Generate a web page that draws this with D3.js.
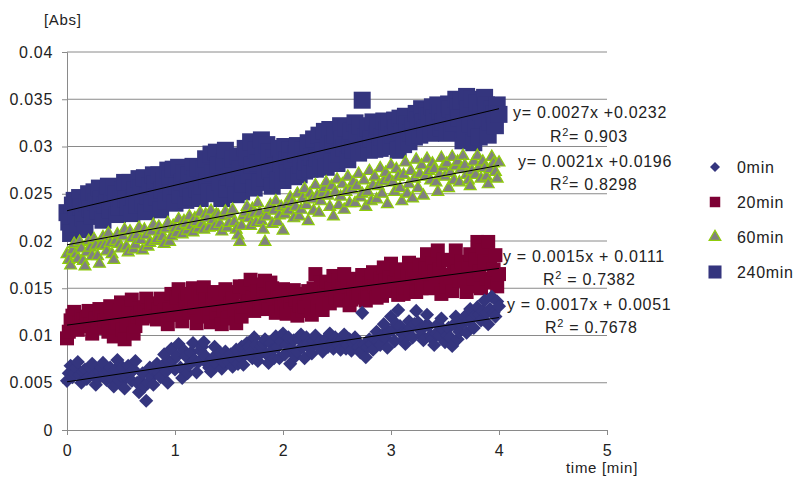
<!DOCTYPE html>
<html>
<head>
<meta charset="utf-8">
<script src="https://cdn.jsdelivr.net/npm/d3@7"></script>
<style>
  body { margin: 0; background: #fff; }
  text { font-family: "Liberation Sans", Arial, sans-serif; font-size: 16px; letter-spacing: 0.7px; fill: #222; }
</style>
</head>
<body>
<div id="canvas"></div>
<script>
// tiempos de medida en segundos (cada 1 s, de 0 a 4 min)
const seconds = [0,1,2,3,4,5,6,7,8,9,10,11,12,13,14,15,16,17,18,19,20,21,22,23,24,25,26,27,28,29,30,31,32,33,34,35,36,37,38,39,40,41,42,43,44,45,46,47,48,49,50,51,52,53,54,55,56,57,58,59,
60,61,62,63,64,65,66,67,68,69,70,71,72,73,74,75,76,77,78,79,80,81,82,83,84,85,86,87,88,89,90,91,92,93,94,95,96,97,98,99,100,101,102,103,104,105,106,107,108,109,110,111,112,113,114,115,116,117,118,119,
120,121,122,123,124,125,126,127,128,129,130,131,132,133,134,135,136,137,138,139,140,141,142,143,144,145,146,147,148,149,150,151,152,153,154,155,156,157,158,159,160,161,162,163,164,165,166,167,168,169,170,171,172,173,174,175,176,177,178,179,
180,181,182,183,184,185,186,187,188,189,190,191,192,193,194,195,196,197,198,199,200,201,202,203,204,205,206,207,208,209,210,211,212,213,214,215,216,217,218,219,220,221,222,223,224,225,226,227,228,229,230,231,232,233,234,235,236,237,238,239,240];

// absorbancias
const abs0 = [
0.0052,0.0060,0.0068,0.0056,0.0060,0.0066,0.0072,0.0058,0.0050,0.0062,0.0064,0.0054,0.0056,0.0066,0.0070,0.0058,0.0048,0.0054,0.0062,0.0066,
0.0071,0.0060,0.0053,0.0062,0.0066,0.0054,0.0046,0.0064,0.0074,0.0052,0.0058,0.0066,0.0044,0.0056,0.0068,0.0060,0.0052,0.0064,0.0073,0.0050,
0.0040,0.0052,0.0060,0.0046,0.0031,0.0050,0.0066,0.0056,0.0048,0.0062,0.0070,0.0060,0.0056,0.0068,0.0080,0.0062,0.0050,0.0072,0.0086,0.0074,
0.0064,0.0078,0.0091,0.0066,0.0055,0.0084,0.0078,0.0060,0.0069,0.0082,0.0092,0.0074,0.0061,0.0072,0.0084,0.0088,0.0093,0.0078,0.0070,0.0066,
0.0062,0.0076,0.0088,0.0070,0.0076,0.0082,0.0065,0.0072,0.0083,0.0078,0.0072,0.0080,0.0067,0.0074,0.0085,0.0070,0.0078,0.0088,0.0069,0.0080,
0.0092,0.0088,0.0082,0.0076,0.0098,0.0090,0.0073,0.0080,0.0088,0.0092,0.0096,0.0080,0.0071,0.0092,0.0084,0.0076,0.0099,0.0088,0.0076,0.0094,
0.0102,0.0080,0.0090,0.0098,0.0070,0.0086,0.0095,0.0078,0.0083,0.0096,0.0101,0.0088,0.0076,0.0098,0.0092,0.0086,0.0081,0.0094,0.0100,0.0090,
0.0088,0.0094,0.0083,0.0092,0.0097,0.0088,0.0102,0.0092,0.0086,0.0098,0.0094,0.0090,0.0085,0.0096,0.0101,0.0086,0.0090,0.0096,0.0084,0.0092,
0.0098,0.0094,0.0088,0.0082,0.0124,0.0090,0.0077,0.0088,0.0096,0.0091,0.0085,0.0096,0.0104,0.0094,0.0090,0.0100,0.0112,0.0098,0.0087,0.0104,
0.0120,0.0106,0.0094,0.0112,0.0127,0.0110,0.0102,0.0096,0.0091,0.0104,0.0115,0.0108,0.0098,0.0112,0.0126,0.0114,0.0106,0.0100,0.0095,0.0110,
0.0122,0.0110,0.0100,0.0096,0.0090,0.0102,0.0112,0.0100,0.0118,0.0106,0.0093,0.0100,0.0108,0.0098,0.0089,0.0112,0.0120,0.0096,0.0104,0.0112,
0.0114,0.0120,0.0103,0.0116,0.0128,0.0118,0.0108,0.0122,0.0130,0.0122,0.0116,0.0126,0.0137,0.0124,0.0112,0.0128,0.0141,0.0124,0.0120,0.0136,
0.0131];
const abs20 = [
0.0097,0.0104,0.0116,0.0121,0.0125,0.0114,0.0106,0.0113,0.0120,0.0117,0.0110,0.0118,0.0126,0.0112,0.0102,0.0122,0.0118,0.0110,0.0128,0.0119,
0.0108,0.0116,0.0122,0.0104,0.0131,0.0120,0.0099,0.0108,0.0114,0.0126,0.0135,0.0106,0.0096,0.0112,0.0124,0.0130,0.0138,0.0102,0.0110,0.0120,
0.0129,0.0124,0.0118,0.0130,0.0139,0.0126,0.0121,0.0134,0.0132,0.0120,0.0117,0.0128,0.0139,0.0118,0.0126,0.0136,0.0112,0.0128,0.0144,0.0122,
0.0130,0.0140,0.0149,0.0122,0.0115,0.0128,0.0137,0.0144,0.0124,0.0136,0.0150,0.0130,0.0113,0.0146,0.0141,0.0120,0.0151,0.0138,0.0128,0.0122,
0.0114,0.0138,0.0146,0.0124,0.0133,0.0144,0.0112,0.0128,0.0149,0.0118,0.0125,0.0134,0.0139,0.0126,0.0113,0.0146,0.0152,0.0120,0.0131,0.0152,
0.0144,0.0136,0.0159,0.0140,0.0126,0.0154,0.0147,0.0128,0.0135,0.0148,0.0158,0.0140,0.0128,0.0156,0.0150,0.0132,0.0124,0.0146,0.0140,0.0130,
0.0149,0.0134,0.0123,0.0142,0.0136,0.0128,0.0148,0.0138,0.0121,0.0132,0.0142,0.0126,0.0131,0.0144,0.0147,0.0136,0.0122,0.0150,0.0165,0.0130,
0.0140,0.0156,0.0127,0.0146,0.0157,0.0142,0.0134,0.0150,0.0163,0.0140,0.0146,0.0158,0.0137,0.0152,0.0165,0.0144,0.0152,0.0132,0.0138,0.0150,
0.0160,0.0140,0.0145,0.0156,0.0164,0.0150,0.0137,0.0146,0.0155,0.0162,0.0167,0.0152,0.0140,0.0150,0.0160,0.0142,0.0172,0.0158,0.0147,0.0162,
0.0176,0.0150,0.0156,0.0170,0.0143,0.0158,0.0168,0.0144,0.0151,0.0164,0.0177,0.0150,0.0161,0.0170,0.0146,0.0162,0.0175,0.0150,0.0155,0.0172,
0.0186,0.0166,0.0150,0.0176,0.0168,0.0156,0.0190,0.0170,0.0144,0.0180,0.0162,0.0152,0.0180,0.0164,0.0147,0.0172,0.0190,0.0168,0.0158,0.0178,
0.0171,0.0158,0.0146,0.0174,0.0186,0.0152,0.0160,0.0180,0.0199,0.0168,0.0150,0.0190,0.0178,0.0160,0.0199,0.0176,0.0156,0.0170,0.0185,0.0152,
0.0165];
const abs60 = [
0.0186,0.0180,0.0174,0.0190,0.0197,0.0186,0.0181,0.0199,0.0192,0.0179,0.0173,0.0188,0.0200,0.0193,0.0184,0.0202,0.0195,0.0184,0.0176,0.0196,
0.0204,0.0195,0.0189,0.0208,0.0198,0.0186,0.0180,0.0200,0.0207,0.0197,0.0192,0.0205,0.0212,0.0194,0.0188,0.0210,0.0203,0.0191,0.0196,0.0206,
0.0214,0.0201,0.0190,0.0212,0.0206,0.0194,0.0198,0.0210,0.0217,0.0200,0.0202,0.0215,0.0210,0.0204,0.0197,0.0213,0.0219,0.0199,0.0205,0.0216,
0.0213,0.0208,0.0223,0.0215,0.0207,0.0221,0.0218,0.0211,0.0226,0.0216,0.0209,0.0224,0.0220,0.0213,0.0230,0.0218,0.0212,0.0228,0.0224,0.0214,
0.0232,0.0222,0.0215,0.0228,0.0227,0.0218,0.0210,0.0226,0.0231,0.0214,0.0219,0.0228,0.0233,0.0220,0.0212,0.0206,0.0199,0.0216,0.0226,0.0230,
0.0236,0.0224,0.0216,0.0234,0.0229,0.0219,0.0240,0.0230,0.0221,0.0212,0.0199,0.0226,0.0234,0.0238,0.0218,0.0232,0.0242,0.0220,0.0227,0.0236,
0.0211,0.0228,0.0238,0.0232,0.0246,0.0240,0.0224,0.0236,0.0250,0.0226,0.0233,0.0245,0.0255,0.0238,0.0221,0.0250,0.0244,0.0232,0.0259,0.0248,
0.0230,0.0242,0.0250,0.0256,0.0262,0.0248,0.0236,0.0258,0.0226,0.0252,0.0265,0.0238,0.0247,0.0260,0.0233,0.0252,0.0268,0.0240,0.0255,0.0262,
0.0240,0.0258,0.0271,0.0246,0.0250,0.0264,0.0236,0.0252,0.0274,0.0242,0.0259,0.0268,0.0244,0.0258,0.0277,0.0250,0.0263,0.0272,0.0239,0.0266,
0.0280,0.0262,0.0252,0.0276,0.0268,0.0256,0.0242,0.0270,0.0283,0.0250,0.0260,0.0274,0.0245,0.0266,0.0286,0.0256,0.0271,0.0280,0.0248,0.0268,
0.0287,0.0274,0.0264,0.0282,0.0276,0.0262,0.0252,0.0270,0.0288,0.0278,0.0268,0.0282,0.0256,0.0272,0.0289,0.0264,0.0279,0.0284,0.0262,0.0276,
0.0290,0.0280,0.0270,0.0264,0.0258,0.0274,0.0284,0.0270,0.0290,0.0278,0.0266,0.0284,0.0277,0.0268,0.0260,0.0276,0.0289,0.0282,0.0273,0.0266,
0.0283];
const abs240 = [
0.0230,0.0220,0.0208,0.0238,0.0243,0.0228,0.0218,0.0246,0.0236,0.0224,0.0212,0.0240,0.0250,0.0234,0.0226,0.0252,0.0241,0.0232,0.0256,0.0244,
0.0222,0.0238,0.0248,0.0258,0.0233,0.0242,0.0257,0.0250,0.0228,0.0236,0.0245,0.0254,0.0262,0.0244,0.0236,0.0262,0.0229,0.0246,0.0254,0.0238,
0.0266,0.0256,0.0240,0.0267,0.0231,0.0248,0.0258,0.0240,0.0270,0.0260,0.0247,0.0270,0.0233,0.0254,0.0264,0.0242,0.0275,0.0266,0.0251,0.0276,
0.0240,0.0258,0.0278,0.0249,0.0262,0.0272,0.0243,0.0256,0.0270,0.0247,0.0279,0.0266,0.0255,0.0277,0.0245,0.0258,0.0276,0.0287,0.0264,0.0252,
0.0292,0.0272,0.0250,0.0294,0.0280,0.0262,0.0245,0.0284,0.0296,0.0255,0.0268,0.0278,0.0287,0.0265,0.0249,0.0290,0.0276,0.0252,0.0260,0.0298,
0.0289,0.0270,0.0305,0.0280,0.0256,0.0296,0.0283,0.0262,0.0307,0.0290,0.0267,0.0302,0.0294,0.0274,0.0258,0.0288,0.0279,0.0265,0.0298,0.0282,
0.0264,0.0300,0.0286,0.0272,0.0296,0.0285,0.0268,0.0292,0.0301,0.0270,0.0280,0.0296,0.0274,0.0284,0.0304,0.0276,0.0289,0.0308,0.0276,0.0288,
0.0312,0.0280,0.0295,0.0316,0.0278,0.0300,0.0318,0.0284,0.0303,0.0312,0.0282,0.0292,0.0322,0.0308,0.0298,0.0320,0.0286,0.0302,0.0316,0.0296,
0.0325,0.0314,0.0293,0.0322,0.0349,0.0300,0.0310,0.0320,0.0296,0.0308,0.0326,0.0297,0.0313,0.0322,0.0298,0.0310,0.0327,0.0300,0.0318,0.0326,
0.0302,0.0312,0.0328,0.0320,0.0296,0.0330,0.0315,0.0302,0.0332,0.0324,0.0305,0.0314,0.0322,0.0310,0.0335,0.0328,0.0312,0.0340,0.0326,0.0318,
0.0338,0.0332,0.0314,0.0342,0.0330,0.0318,0.0344,0.0336,0.0320,0.0326,0.0336,0.0314,0.0345,0.0340,0.0315,0.0325,0.0350,0.0342,0.0330,0.0348,
0.0306,0.0318,0.0353,0.0340,0.0324,0.0350,0.0304,0.0320,0.0346,0.0310,0.0336,0.0328,0.0352,0.0344,0.0312,0.0326,0.0340,0.0334,0.0322,0.0344,
0.0334];

// nombres de las series, pendientes e interceptos de las rectas de tendencia
const seriesNames = ["0min", "20min", "60min", "240min"];
const slopes = [0.0017, 0.0015, 0.0021, 0.0027];
const intercepts = [0.0051, 0.0111, 0.0196, 0.0232];
const eqLabels = ["y = 0.0017x + 0.0051", "y = 0.0015x + 0.0111", "y= 0.0021x +0.0196", "y= 0.0027x +0.0232"];
const r2Labels = [" = 0.7678", " = 0.7382", "= 0.8298", "= 0.903"];

const xTicks = [0, 1, 2, 3, 4, 5];
const yTicks = [0, 0.005, 0.01, 0.015, 0.02, 0.025, 0.03, 0.035, 0.04];

// Caracteristicas del canvas
const width = 796;
const height = 493;
const margin = {top: 52, left: 67, bottom: 63, right: 189};

const svg = d3.select("#canvas").append("svg")
    .attr("width", width)
    .attr("height", height);

const x = d3.scaleLinear().domain([0, 5]).range([margin.left, width - margin.right]);
const y = d3.scaleLinear().domain([0, 0.04]).range([height - margin.bottom, margin.top]);

// lineas de la cuadricula
svg.append("g").selectAll("line").data(yTicks.slice(1)).enter().append("line")
    .attr("x1", x(0)).attr("x2", x(5))
    .attr("y1", d => y(d)).attr("y2", d => y(d))
    .attr("stroke", "#8a8a8a").attr("stroke-width", 1);

// Eje y
const yAxis = svg.append("g")
    .attr("transform", `translate(${x(0)},0)`)
    .call(d3.axisLeft(y).tickValues(yTicks).tickSize(5).tickPadding(9)
        .tickFormat(d => d === 0 ? "0" : String(+d.toFixed(3))));
// Eje x
const xAxis = svg.append("g")
    .attr("transform", `translate(0,${y(0)})`)
    .call(d3.axisBottom(x).tickValues(xTicks).tickSize(5).tickPadding(10).tickFormat(d3.format("d")));
[xAxis, yAxis].forEach(a => {
    a.select(".domain").attr("stroke", "#8a8a8a");
    a.selectAll(".tick line").attr("stroke", "#8a8a8a");
    a.selectAll("text").style("font-size", "16px").attr("fill", "#222");
});

// definicion de los marcadores de cada serie
const styles = [
    {sym: d3.symbol().type(d3.symbolSquare).size(100), rot: 45, fill: "#34357e", stroke: "none"},
    {sym: d3.symbol().type(d3.symbolSquare).size(196), rot: 0, fill: "#7d0034", stroke: "none"},
    {sym: d3.symbol().type(d3.symbolTriangle).size(62), rot: 0, fill: "#808080", stroke: "#8fcc0a"},
    {sym: d3.symbol().type(d3.symbolSquare).size(289), rot: 0, fill: "#34357e", stroke: "none"}
];
const allValues = [abs0, abs20, abs60, abs240];

// se dibuja de la ultima serie a la primera
[3, 2, 1, 0].forEach(i => {
    const s = styles[i];
    svg.append("g").selectAll("path")
        .data(seconds.map((t, k) => ({t: t / 60, v: allValues[i][k]})))
        .enter().append("path")
        .attr("d", s.sym)
        .attr("transform", d => `translate(${x(d.t)},${y(d.v)}) rotate(${s.rot})`)
        .attr("fill", s.fill)
        .attr("stroke", s.stroke)
        .attr("stroke-width", 1.2);
});

// rectas de tendencia
svg.append("g").selectAll("line").data(slopes).enter().append("line")
    .attr("x1", x(0)).attr("x2", x(4))
    .attr("y1", (d, i) => y(intercepts[i]))
    .attr("y2", (d, i) => y(d * 4 + intercepts[i]))
    .attr("stroke", "#000").attr("stroke-width", 1);

// ecuaciones y R2
const eqPos = [[507, 310, 545, 333], [503, 262, 543, 285], [518, 167, 550, 190], [513, 118, 550, 142]];
eqLabels.forEach((lab, i) => {
    const p = eqPos[i];
    svg.append("text").attr("x", p[0]).attr("y", p[1]).text(lab);
    const r = svg.append("text").attr("x", p[2]).attr("y", p[3]);
    r.append("tspan").text("R");
    r.append("tspan").attr("dy", -6).style("font-size", "11px").text("2");
    r.append("tspan").attr("dy", 6).text(r2Labels[i]);
});

// leyenda
const legend = svg.append("g");
const legendSizes = [50, 110, 60, 170];
seriesNames.forEach((name, i) => {
    const s = styles[i];
    const ly = 167 + i * 35;
    legend.append("path")
        .attr("d", d3.symbol().type(i === 2 ? d3.symbolTriangle : d3.symbolSquare).size(legendSizes[i]))
        .attr("transform", `translate(715,${ly}) rotate(${s.rot})`)
        .attr("fill", s.fill).attr("stroke", s.stroke).attr("stroke-width", 1.2);
    legend.append("text").attr("x", 737).attr("y", ly + 6).text(name);
});

// titulos de los ejes
svg.append("text").attr("x", 44).attr("y", 25).style("font-size", "15px").text("[Abs]");
svg.append("text").attr("x", 566).attr("y", 473).style("font-size", "15px").text("time [min]");
</script>
</body>
</html>
